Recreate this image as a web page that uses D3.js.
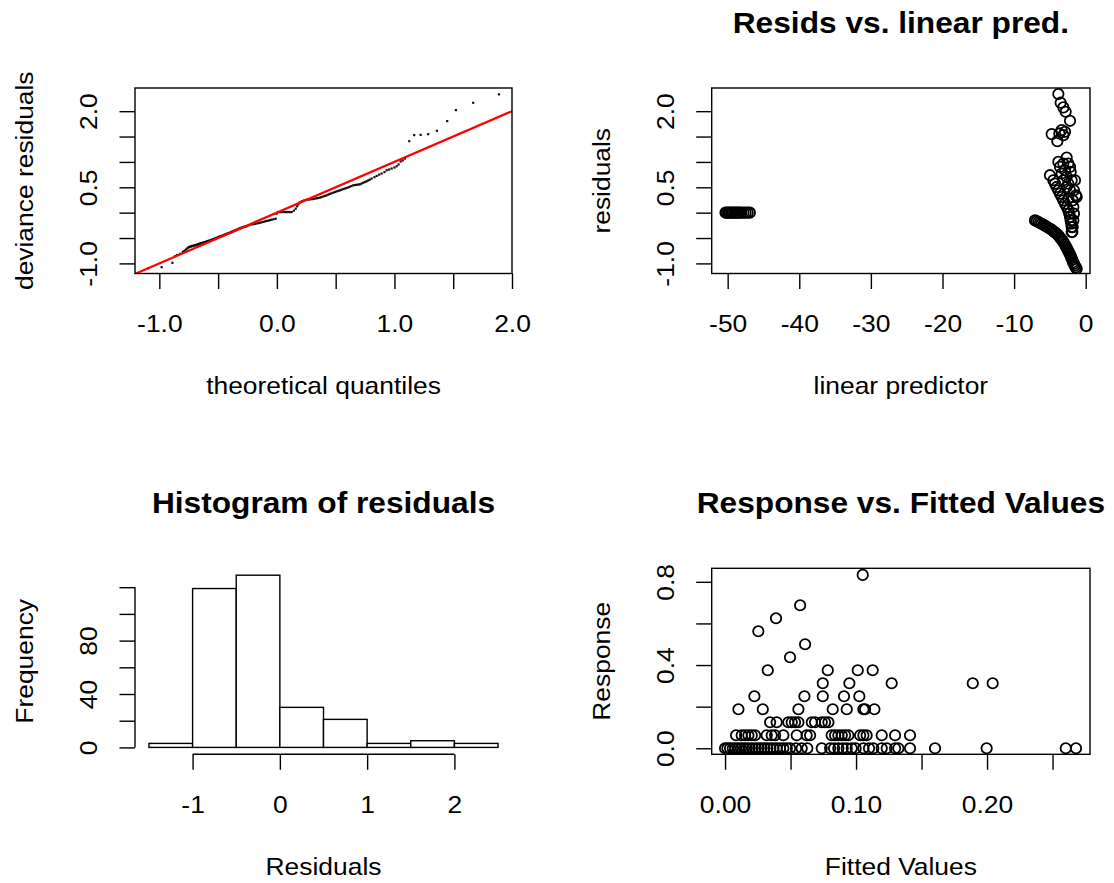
<!DOCTYPE html>
<html>
<head>
<meta charset="utf-8">
<script src="https://cdn.jsdelivr.net/npm/d3@7"></script>
<style>
  body { margin: 0; background: #fff; }
  svg { display: block; }
  text { font-family: "Liberation Sans", Arial, sans-serif; fill: #000; }
</style>
</head>
<body>
<svg id="chart" width="1114" height="883"></svg>
<script>
// ---------- Q-Q plot of deviance residuals ----------
const qqTheoretical = [
  -1.094, -0.980, -0.889, -0.866, -0.850, -0.824, -0.800, -0.790, -0.781, -0.770,
  -0.760, -0.752, -0.745, -0.738, -0.730, -0.722, -0.715, -0.708, -0.700, -0.692, -0.685, -0.678,
  -0.670, -0.662, -0.655, -0.648, -0.640, -0.632, -0.625, -0.618, -0.610, -0.602, -0.595, -0.588,
  -0.580, -0.572, -0.565, -0.558, -0.550, -0.542, -0.535, -0.528, -0.520, -0.512, -0.505, -0.498,
  -0.490, -0.482, -0.475, -0.468, -0.460, -0.452, -0.445, -0.438, -0.430, -0.422, -0.415, -0.408,
  -0.400, -0.392, -0.385, -0.378, -0.370, -0.362, -0.355, -0.348, -0.340, -0.332, -0.325, -0.318,
  -0.310, -0.302, -0.295, -0.288, -0.280, -0.272, -0.265, -0.258, -0.250, -0.232, -0.214, -0.200,
  -0.186, -0.172, -0.158, -0.144, -0.130, -0.115, -0.101, -0.085, -0.070, -0.057, -0.044, -0.027,
  -0.010, -0.002, 0.012, 0.026, 0.040, 0.055, 0.069, 0.083, 0.097, 0.111, 0.126, 0.145,
  0.160, 0.172, 0.182, 0.195, 0.211, 0.230, 0.253, 0.267, 0.280, 0.295, 0.310, 0.325, 0.340, 0.355, 0.367,
  0.381, 0.395, 0.409, 0.423, 0.437, 0.450, 0.465, 0.480, 0.495, 0.510, 0.523, 0.537, 0.551, 0.565,
  0.579, 0.593, 0.607, 0.620, 0.635, 0.650, 0.665, 0.680, 0.694, 0.707, 0.721, 0.735, 0.750, 0.764,
  0.777, 0.790, 0.806, 0.830, 0.849, 0.870, 0.891, 0.915, 0.934, 0.955, 0.976, 1.000,
  1.019, 1.035, 1.053, 1.070, 1.089,
  1.126, 1.168, 1.223, 1.287, 1.361, 1.449, 1.523, 1.670, 1.889
];
const qqDeviance = [
  -1.095, -1.075, -0.988, -0.858, -0.835, -0.810, -0.775, -0.760, -0.745, -0.720,
  -0.700, -0.685, -0.675, -0.670, -0.665, -0.660, -0.655, -0.650, -0.645, -0.640, -0.635, -0.630,
  -0.625, -0.618, -0.610, -0.605, -0.600, -0.595, -0.590, -0.585, -0.580, -0.572, -0.565, -0.560,
  -0.555, -0.550, -0.545, -0.538, -0.530, -0.525, -0.520, -0.512, -0.505, -0.498, -0.490, -0.483,
  -0.475, -0.470, -0.465, -0.458, -0.450, -0.442, -0.435, -0.428, -0.420, -0.415, -0.410, -0.402,
  -0.395, -0.388, -0.380, -0.372, -0.365, -0.358, -0.350, -0.342, -0.335, -0.328, -0.320, -0.312,
  -0.305, -0.298, -0.290, -0.285, -0.280, -0.275, -0.270, -0.265, -0.260, -0.245, -0.231, -0.226,
  -0.220, -0.213, -0.206, -0.198, -0.190, -0.181, -0.172, -0.163, -0.155, -0.147, -0.138, -0.128,
  -0.119, -0.020, 0.012, 0.012, 0.012, 0.012, 0.012, 0.012, 0.012, 0.012, 0.012, 0.040,
  0.079, 0.125, 0.164, 0.200, 0.223, 0.240, 0.257, 0.260, 0.262, 0.265, 0.269, 0.277, 0.285, 0.290, 0.296,
  0.308, 0.320, 0.331, 0.342, 0.356, 0.370, 0.382, 0.395, 0.408, 0.420, 0.430, 0.441, 0.453, 0.465,
  0.475, 0.486, 0.498, 0.510, 0.525, 0.540, 0.545, 0.550, 0.555, 0.559, 0.575, 0.590, 0.605, 0.619,
  0.635, 0.650, 0.672, 0.700, 0.723, 0.750, 0.771, 0.800, 0.836, 0.850, 0.870, 0.890,
  0.915, 0.950, 1.008, 1.030, 1.067,
  1.409, 1.528, 1.534, 1.547, 1.613, 1.804, 2.022, 2.166, 2.332
];
const qqXTicks = [-1.0, -0.5, 0.0, 0.5, 1.0, 1.5, 2.0];
const qqXLabels = ["-1.0", "", "0.0", "", "1.0", "", "2.0"];
const residTicks = [-1.0, -0.5, 0.0, 0.5, 1.0, 1.5, 2.0];
const residLabels = ["-1.0", "", "", "0.5", "", "", "2.0"];

// ---------- residuals vs linear predictor ----------
const linPred = [
  -50.3, -50.1, -49.9, -49.7, -49.5, -49.3, -49.1, -48.9, -48.7, -48.5, -48.3, -48.1, -47.8, -47.5, -47.2, -46.9,
  -7.08, -6.85, -6.62, -6.38, -6.15, -5.92, -5.68, -5.45, -5.22, -4.99, -4.75, -4.52, -4.29, -4.06,
  -3.82, -3.64, -3.45, -3.26, -3.12, -2.94, -2.80, -2.66, -2.52, -2.38, -2.24, -2.10, -2.01, -1.87,
  -1.77, -1.63, -1.54, -1.40, -1.26,
  -3.82, -3.50, -3.12, -2.80, -2.19, -3.36, -2.89, -4.75, -3.96, -3.12, -3.68,
  -2.66, -3.82, -4.99, -2.19, -1.96, -1.26, -3.59, -3.12, -2.43, -2.10, -2.89, -2.66,
  -4.52, -4.06, -3.59, -3.12, -2.66, -2.29, -2.10, -1.96, -1.87, -4.29, -3.82, -3.36,
  -2.89, -2.43, -2.19, -2.01, -2.43, -2.19, -1.82, -1.64, -1.73, -3.12, -2.66, -2.43,
  -1.50, -1.64, -1.36, -3.36, -1.82, -1.73, -1.96
];
const linResid = [
  0.00, 0.00, 0.00, 0.00, 0.00, 0.00, 0.00, 0.00, 0.00, 0.00, 0.00, 0.00, 0.00, 0.00, 0.00, 0.00,
  -0.152, -0.165, -0.185, -0.204, -0.218, -0.237, -0.257, -0.277, -0.297, -0.317, -0.336, -0.363, -0.389, -0.415,
  -0.448, -0.481, -0.514, -0.547, -0.580, -0.619, -0.659, -0.692, -0.732, -0.771, -0.811, -0.850, -0.890, -0.929,
  -0.975, -1.008, -1.041, -1.074, -1.107,
  2.338, 2.167, 2.075, 1.989, 1.811, 1.627, 1.594, 1.548, 1.409, 1.528, 1.561,
  1.087, 1.001, 0.738, 0.902, 0.639, 0.309, 0.902, 0.968, 0.968, 0.803, 0.836, 0.705,
  0.639, 0.507, 0.375, 0.243, 0.112, -0.020, -0.152, -0.284, -0.382, 0.573, 0.441, 0.309,
  0.178, 0.046, -0.086, -0.218, 0.573, 0.441, 0.243, -0.020, 0.112, 0.639, 0.507, 0.276,
  0.639, 0.441, 0.342, 0.771, -0.284, -0.152, -0.382
];
const lpTicks = [-50, -40, -30, -20, -10, 0];
const lpLabels = ["-50", "-40", "-30", "-20", "-10", "0"];

// ---------- histogram of residuals ----------
const histBreaks = [-1.5, -1.0, -0.5, 0.0, 0.5, 1.0, 1.5, 2.0, 2.5];
const histCounts = [3, 119, 129, 30, 21, 3, 5, 3];
const histXTicks = [-1, 0, 1, 2];
const histXLabels = ["-1", "0", "1", "2"];
const freqTicks = [0, 20, 40, 60, 80, 100, 120];
const freqLabels = ["0", "", "40", "", "80", "", ""];

// ---------- response vs fitted values ----------
const fitZero = [
  0.0000, 0.0018, 0.0038, 0.0059, 0.0079, 0.0102, 0.0122, 0.0145, 0.0165, 0.0186,
  0.0209, 0.0232, 0.0254, 0.0277, 0.0300, 0.0323, 0.0346, 0.0369, 0.0394, 0.0420,
  0.0445, 0.0471, 0.0496, 0.0542, 0.0585, 0.0628, 0.0738, 0.0802, 0.0832, 0.0865,
  0.0898, 0.0929, 0.0967, 0.0997, 0.1056, 0.1099, 0.1132, 0.1196, 0.1234, 0.1298,
  0.1323, 0.1412, 0.1603, 0.1997, 0.2601, 0.2679
];
const fitOther = [
  0.0084, 0.0127, 0.0153, 0.0178, 0.0204, 0.0229, 0.0318, 0.0356, 0.0382, 0.0445,
  0.0547, 0.0623, 0.0649, 0.0814, 0.0840, 0.0865, 0.0891, 0.0916, 0.0941, 0.1031,
  0.1056, 0.1081, 0.1196, 0.1298, 0.1412,
  0.0344, 0.0394, 0.0483, 0.0509, 0.0534, 0.0560, 0.0662, 0.0687, 0.0738, 0.0763, 0.0789,
  0.0102, 0.0288, 0.0560, 0.0822, 0.0929, 0.1056, 0.1069, 0.1140,
  0.0224, 0.0606, 0.0746, 0.0908, 0.1025,
  0.0746, 0.0949, 0.1272, 0.1891, 0.2043,
  0.0326, 0.0784, 0.1013, 0.1127,
  0.0496, 0.0611, 0.0254, 0.0389, 0.0573, 0.1051
];
const respOther = [
  0.0625, 0.0625, 0.0625, 0.0625, 0.0625, 0.0625, 0.0625, 0.0625, 0.0625, 0.0625,
  0.0625, 0.0625, 0.0625, 0.0625, 0.0625, 0.0625, 0.0625, 0.0625, 0.0625, 0.0625,
  0.0625, 0.0625, 0.0625, 0.0625, 0.0625,
  0.125, 0.125, 0.125, 0.125, 0.125, 0.125, 0.125, 0.125, 0.125, 0.125, 0.125,
  0.1875, 0.1875, 0.1875, 0.1875, 0.1875, 0.1875, 0.1875, 0.1875,
  0.25, 0.25, 0.25, 0.25, 0.25,
  0.3125, 0.3125, 0.3125, 0.3125, 0.3125,
  0.375, 0.375, 0.375, 0.375,
  0.4375, 0.5, 0.5625, 0.625, 0.6875, 0.8333
];
const fitTicks = [0, 0.05, 0.10, 0.15, 0.20, 0.25];
const fitLabels = ["0.00", "", "0.10", "", "0.20", ""];
const respTicks = [0, 0.2, 0.4, 0.6, 0.8];
const respLabels = ["0.0", "", "0.4", "", "0.8"];

// ---------- drawing ----------
const svg = d3.select("#chart");
const FS = 24, TITLE_FS = 28.8, SX = 1.1, TICK = 15.5, LW = 1.4;
const PT_R = 5.2, PT_W = 1.8;

function panelRegion(id, x0, x1, y0, y1) {
  svg.append("clipPath").attr("id", id)
    .append("rect").attr("x", x0).attr("y", y0).attr("width", x1 - x0).attr("height", y1 - y0);
  return svg.append("g").attr("clip-path", `url(#${id})`);
}

function drawBox(x0, x1, y0, y1) {
  svg.append("rect").attr("x", x0).attr("y", y0).attr("width", x1 - x0).attr("height", y1 - y0)
    .attr("fill", "none").attr("stroke", "#000").attr("stroke-width", LW);
}

function xAxis(scale, ticks, labels, yPos, withLine) {
  const ax = d3.axisBottom(scale).tickValues(ticks).tickSize(TICK).tickSizeOuter(0)
    .tickFormat((d, i) => labels[i]);
  const g = svg.append("g").attr("transform", `translate(0,${yPos})`).call(ax)
    .attr("font-size", null).attr("font-family", null);
  g.select(".domain").remove();
  g.selectAll(".tick line").attr("stroke-width", LW);
  g.selectAll(".tick text").attr("y", 59).attr("dy", null)
    .attr("font-size", FS).attr("transform", `scale(${SX},1)`);
  if (withLine) {
    g.append("line").attr("x1", scale(ticks[0])).attr("x2", scale(ticks[ticks.length - 1]))
      .attr("stroke", "#000").attr("stroke-width", LW);
  }
}

function yAxis(scale, ticks, labels, xPos, withLine) {
  const ax = d3.axisLeft(scale).tickValues(ticks).tickSize(TICK).tickSizeOuter(0)
    .tickFormat((d, i) => labels[i]);
  const g = svg.append("g").attr("transform", `translate(${xPos},0)`).call(ax)
    .attr("font-size", null).attr("font-family", null);
  g.select(".domain").remove();
  g.selectAll(".tick line").attr("stroke-width", LW);
  g.selectAll(".tick text").attr("x", 0).attr("dy", null).attr("text-anchor", "middle")
    .attr("font-size", FS).attr("transform", `translate(-38,0) rotate(-90) scale(${SX},1)`);
  if (withLine) {
    g.append("line").attr("y1", scale(ticks[0])).attr("y2", scale(ticks[ticks.length - 1]))
      .attr("stroke", "#000").attr("stroke-width", LW);
  }
}

function xTitle(text, cx, y) {
  svg.append("text").attr("transform", `translate(${cx},${y}) scale(${SX},1)`)
    .attr("text-anchor", "middle").attr("font-size", FS).text(text);
}
function yTitle(text, x, cy) {
  svg.append("text").attr("transform", `translate(${x},${cy}) rotate(-90) scale(${SX},1)`)
    .attr("text-anchor", "middle").attr("font-size", FS).text(text);
}
function mainTitle(text, cx, y) {
  svg.append("text").attr("transform", `translate(${cx},${y}) scale(${SX},1)`)
    .attr("text-anchor", "middle").attr("font-size", TITLE_FS).attr("font-weight", "bold").text(text);
}

// plot regions (left / right columns, top / bottom rows)
const L = [135, 512], R = [711.7, 1090], TOP = [88, 273.5], BOT = [568.3, 754.3];

// Panel 1: QQ plot
{
  const x = d3.scaleLinear([-1.207, 2.0], L);
  const y = d3.scaleLinear([-1.199, 2.457], [TOP[1], TOP[0]]);
  const g = panelRegion("clip1", L[0], L[1], TOP[0], TOP[1]);
  g.selectAll("rect.pt").data(qqTheoretical).join("rect").attr("class", "pt")
    .attr("x", d => x(d) - 1.1).attr("y", (d, i) => y(qqDeviance[i]) - 1.1)
    .attr("width", 2.2).attr("height", 2.2).attr("fill", "#111");
  const lim = x.domain();
  g.append("line").attr("x1", x(lim[0])).attr("y1", y(lim[0])).attr("x2", x(lim[1])).attr("y2", y(lim[1]))
    .attr("stroke", "#ff0000").attr("stroke-width", 2.2);
  drawBox(L[0], L[1], TOP[0], TOP[1]);
  xAxis(x, qqXTicks, qqXLabels, TOP[1], false);
  yAxis(y, residTicks, residLabels, L[0], false);
  xTitle("theoretical quantiles", (L[0] + L[1]) / 2, 394);
  yTitle("deviance residuals", 33, (TOP[0] + TOP[1]) / 2);
}

// Panel 2: residuals vs linear predictor
{
  const x = d3.scaleLinear([-52.23, 0.60], R);
  const y = d3.scaleLinear([-1.199, 2.457], [TOP[1], TOP[0]]);
  const g = panelRegion("clip2", R[0], R[1], TOP[0], TOP[1]);
  g.selectAll("circle").data(linPred).join("circle")
    .attr("cx", d => x(d)).attr("cy", (d, i) => y(linResid[i])).attr("r", PT_R)
    .attr("fill", "none").attr("stroke", "#000").attr("stroke-width", PT_W);
  drawBox(R[0], R[1], TOP[0], TOP[1]);
  xAxis(x, lpTicks, lpLabels, TOP[1], false);
  yAxis(y, residTicks, residLabels, R[0], false);
  xTitle("linear predictor", (R[0] + R[1]) / 2, 394);
  yTitle("residuals", R[0] - 102, (TOP[0] + TOP[1]) / 2);
  mainTitle("Resids vs. linear pred.", (R[0] + R[1]) / 2, TOP[0] - 55);
}

// Panel 3: histogram of residuals
{
  const x = d3.scaleLinear([-1.66, 2.66], L);
  const y = d3.scaleLinear([-5.16, 134.16], [BOT[1], BOT[0]]);
  svg.append("g").selectAll("rect").data(histCounts).join("rect")
    .attr("x", (d, i) => x(histBreaks[i])).attr("width", (d, i) => x(histBreaks[i + 1]) - x(histBreaks[i]))
    .attr("y", d => y(d)).attr("height", d => y(0) - y(d))
    .attr("fill", "#fff").attr("stroke", "#000").attr("stroke-width", LW);
  xAxis(x, histXTicks, histXLabels, BOT[1], true);
  yAxis(y, freqTicks, freqLabels, L[0], true);
  xTitle("Residuals", (L[0] + L[1]) / 2, BOT[1] + 121);
  yTitle("Frequency", 33, (BOT[0] + BOT[1]) / 2);
  mainTitle("Histogram of residuals", (L[0] + L[1]) / 2, BOT[0] - 55);
}

// Panel 4: response vs fitted values
{
  const x = d3.scaleLinear([-0.0102, 0.2786], R);
  const y = d3.scaleLinear([-0.029, 0.865], [BOT[1], BOT[0]]);
  const g = panelRegion("clip4", R[0], R[1], BOT[0], BOT[1]);
  const pts = fitZero.map(f => [f, 0]).concat(fitOther.map((f, i) => [f, respOther[i]]));
  g.selectAll("circle").data(pts).join("circle")
    .attr("cx", d => x(d[0])).attr("cy", d => y(d[1])).attr("r", PT_R)
    .attr("fill", "none").attr("stroke", "#000").attr("stroke-width", PT_W);
  drawBox(R[0], R[1], BOT[0], BOT[1]);
  xAxis(x, fitTicks, fitLabels, BOT[1], false);
  yAxis(y, respTicks, respLabels, R[0], false);
  xTitle("Fitted Values", (R[0] + R[1]) / 2, BOT[1] + 121);
  yTitle("Response", R[0] - 102, (BOT[0] + BOT[1]) / 2);
  mainTitle("Response vs. Fitted Values", (R[0] + R[1]) / 2, BOT[0] - 55);
}
</script>
</body>
</html>
